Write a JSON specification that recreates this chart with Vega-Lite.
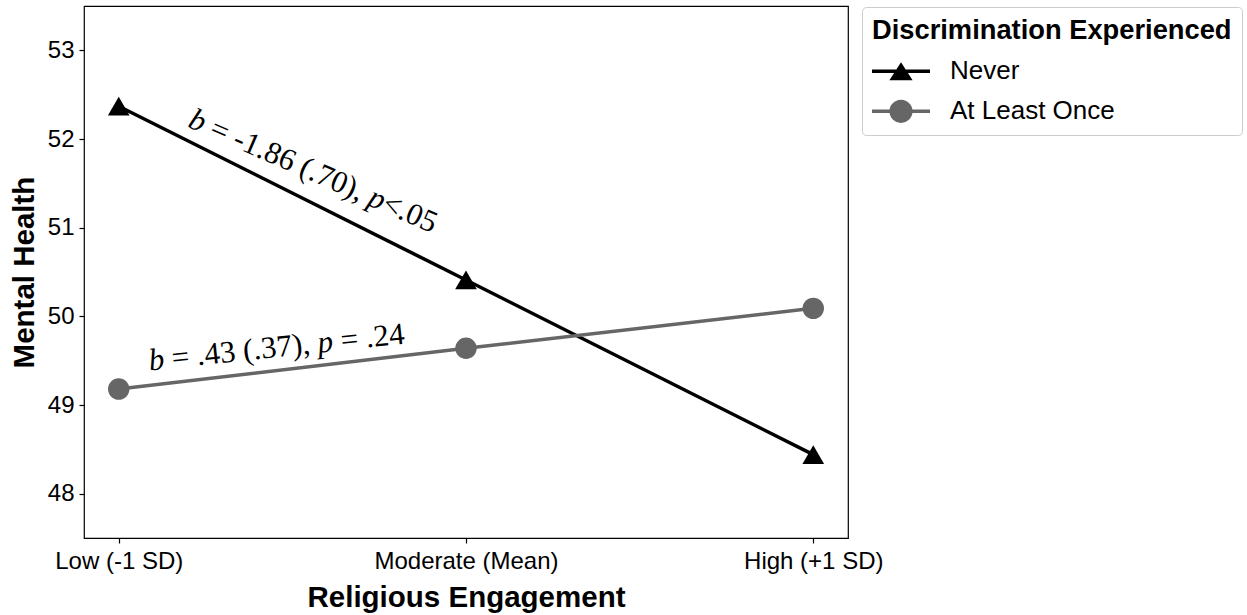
{
  "$schema": "https://vega.github.io/schema/vega-lite/v6.json",
  "autosize": {"type": "none"},
  "padding": {"left": 84, "top": 6, "right": 399, "bottom": 77},
  "width": 764,
  "height": 532,
  "background": "white",
  "config": {
    "font": "Liberation Sans",
    "view": {"stroke": "#000000", "strokeWidth": 1.2},
    "axis": {
      "grid": false,
      "domain": false,
      "ticks": true,
      "tickColor": "#000000",
      "tickSize": 5,
      "tickWidth": 1.2,
      "labelFont": "Liberation Sans",
      "labelFontSize": 24,
      "labelColor": "#000000",
      "labelPadding": 5,
      "labelLimit": 400,
      "titleFont": "Liberation Sans",
      "titleFontSize": 29.5,
      "titleFontWeight": "bold",
      "titleColor": "#000000"
    }
  },
  "datasets": {
    "series": [
      {"level": 0, "group": "Never", "health": 52.37},
      {"level": 1, "group": "Never", "health": 50.41},
      {"level": 2, "group": "Never", "health": 48.44},
      {"level": 0, "group": "At Least Once", "health": 49.18},
      {"level": 1, "group": "At Least Once", "health": 49.64},
      {"level": 2, "group": "At Least Once", "health": 50.09}
    ],
    "notes": [
      {"note": "never", "part": "b", "label": "b", "level": 0.196, "health": 52.14},
      {"note": "never", "part": "coef", "label": "= -1.86 (.70),", "level": 0.196, "health": 52.14},
      {"note": "never", "part": "p", "label": "p", "level": 0.196, "health": 52.14},
      {"note": "never", "part": "sig", "label": "<.05", "level": 0.196, "health": 52.14},
      {"note": "once", "part": "b", "label": "b", "level": 0.089, "health": 49.39},
      {"note": "once", "part": "coef", "label": "= .43 (.37),", "level": 0.089, "health": 49.39},
      {"note": "once", "part": "p", "label": "p", "level": 0.089, "health": 49.39},
      {"note": "once", "part": "sig", "label": "= .24", "level": 0.089, "health": 49.39}
    ]
  },
  "encoding": {
    "x": {
      "field": "level",
      "type": "quantitative",
      "scale": {"domain": [-0.1, 2.1], "nice": false, "zero": false},
      "axis": {
        "values": [0, 1, 2],
        "labelExpr": "['Low (-1 SD)', 'Moderate (Mean)', 'High (+1 SD)'][datum.value]",
        "title": "Religious Engagement",
        "titlePadding": 10,
        "labelPadding": 6
      }
    },
    "y": {
      "field": "health",
      "type": "quantitative",
      "scale": {"domain": [47.5, 53.5], "nice": false, "zero": false},
      "axis": {
        "values": [48, 49, 50, 51, 52, 53],
        "title": "Mental Health",
        "titlePadding": 8
      }
    }
  },
  "layer": [
    {
      "data": {"name": "series"},
      "mark": {"type": "line", "strokeWidth": 3.5},
      "encoding": {
        "color": {
          "field": "group",
          "type": "nominal",
          "scale": {"domain": ["Never", "At Least Once"], "range": ["#000000", "#666666"]},
          "title": "Discrimination Experienced"
        },
        "order": {"field": "level", "type": "quantitative"}
      }
    },
    {
      "data": {"name": "series"},
      "description": "Zero-size points that carry the line-and-marker legend keys",
      "mark": {"type": "point", "filled": true, "size": 0, "opacity": 1},
      "encoding": {
        "color": {
          "field": "group",
          "type": "nominal",
          "scale": {"domain": ["Never", "At Least Once"], "range": ["#000000", "#666666"]},
          "title": "Discrimination Experienced"
        },
        "shape": {
          "field": "group",
          "type": "nominal",
          "scale": {
            "domain": ["Never", "At Least Once"],
            "range": [
              "M-1,-0.06H1V0.06H-1Z M0,-0.31L0.4,0.31H-0.4Z",
              "M-1,-0.06H1V0.06H-1Z M0.4,0A0.4,0.4 0 1 1 -0.4,0A0.4,0.4 0 1 1 0.4,0Z"
            ]
          },
          "title": "Discrimination Experienced",
          "legend": {
            "orient": "none",
            "legendX": 778,
            "legendY": 1,
            "titleFontSize": 27.3,
            "titleFontWeight": "bold",
            "titleColor": "#000000",
            "titleLimit": 600,
            "titlePadding": 14,
            "labelFontSize": 26,
            "labelColor": "#000000",
            "labelLimit": 400,
            "labelOffset": 20,
            "symbolSize": 3364,
            "symbolStrokeWidth": 0,
            "symbolOpacity": 1,
            "clipHeight": 26,
            "rowPadding": 14,
            "padding": 10,
            "strokeColor": "#cccccc",
            "fillColor": "#ffffff",
            "cornerRadius": 4
          }
        }
      }
    },
    {
      "data": {"name": "series"},
      "transform": [{"filter": "datum.group === 'Never'"}],
      "mark": {"type": "point", "shape": "triangle-up", "filled": true, "size": 470, "opacity": 1, "color": "#000000"},
      "encoding": {}
    },
    {
      "data": {"name": "series"},
      "transform": [{"filter": "datum.group === 'At Least Once'"}],
      "mark": {"type": "point", "shape": "circle", "filled": true, "size": 460, "opacity": 1, "color": "#666666"},
      "encoding": {}
    },
    {
      "data": {"name": "notes"},
      "transform": [{"filter": "datum.note === 'never' && datum.part === 'b'"}],
      "mark": {"type": "text", "font": "Liberation Serif", "fontStyle": "italic", "fontSize": 31, "angle": 23.5, "align": "left", "baseline": "alphabetic", "color": "#000000"},
      "encoding": {"text": {"field": "label"}}
    },
    {
      "data": {"name": "notes"},
      "transform": [{"filter": "datum.note === 'never' && datum.part === 'coef'"}],
      "mark": {"type": "text", "font": "Liberation Serif", "fontSize": 31, "angle": 23.5, "align": "left", "baseline": "alphabetic", "dx": 23.25, "color": "#000000"},
      "encoding": {"text": {"field": "label"}}
    },
    {
      "data": {"name": "notes"},
      "transform": [{"filter": "datum.note === 'never' && datum.part === 'p'"}],
      "mark": {"type": "text", "font": "Liberation Serif", "fontStyle": "italic", "fontSize": 31, "angle": 23.5, "align": "left", "baseline": "alphabetic", "dx": 195.7, "color": "#000000"},
      "encoding": {"text": {"field": "label"}}
    },
    {
      "data": {"name": "notes"},
      "transform": [{"filter": "datum.note === 'never' && datum.part === 'sig'"}],
      "mark": {"type": "text", "font": "Liberation Serif", "fontSize": 31, "angle": 23.5, "align": "left", "baseline": "alphabetic", "dx": 211.2, "color": "#000000"},
      "encoding": {"text": {"field": "label"}}
    },
    {
      "data": {"name": "notes"},
      "transform": [{"filter": "datum.note === 'once' && datum.part === 'b'"}],
      "mark": {"type": "text", "font": "Liberation Serif", "fontStyle": "italic", "fontSize": 31, "angle": -6, "align": "left", "baseline": "alphabetic", "color": "#000000"},
      "encoding": {"text": {"field": "label"}}
    },
    {
      "data": {"name": "notes"},
      "transform": [{"filter": "datum.note === 'once' && datum.part === 'coef'"}],
      "mark": {"type": "text", "font": "Liberation Serif", "fontSize": 31, "angle": -6, "align": "left", "baseline": "alphabetic", "dx": 23.25, "color": "#000000"},
      "encoding": {"text": {"field": "label"}}
    },
    {
      "data": {"name": "notes"},
      "transform": [{"filter": "datum.note === 'once' && datum.part === 'p'"}],
      "mark": {"type": "text", "font": "Liberation Serif", "fontStyle": "italic", "fontSize": 31, "angle": -6, "align": "left", "baseline": "alphabetic", "dx": 169.9, "color": "#000000"},
      "encoding": {"text": {"field": "label"}}
    },
    {
      "data": {"name": "notes"},
      "transform": [{"filter": "datum.note === 'once' && datum.part === 'sig'"}],
      "mark": {"type": "text", "font": "Liberation Serif", "fontSize": 31, "angle": -6, "align": "left", "baseline": "alphabetic", "dx": 193.1, "color": "#000000"},
      "encoding": {"text": {"field": "label"}}
    }
  ]
}
